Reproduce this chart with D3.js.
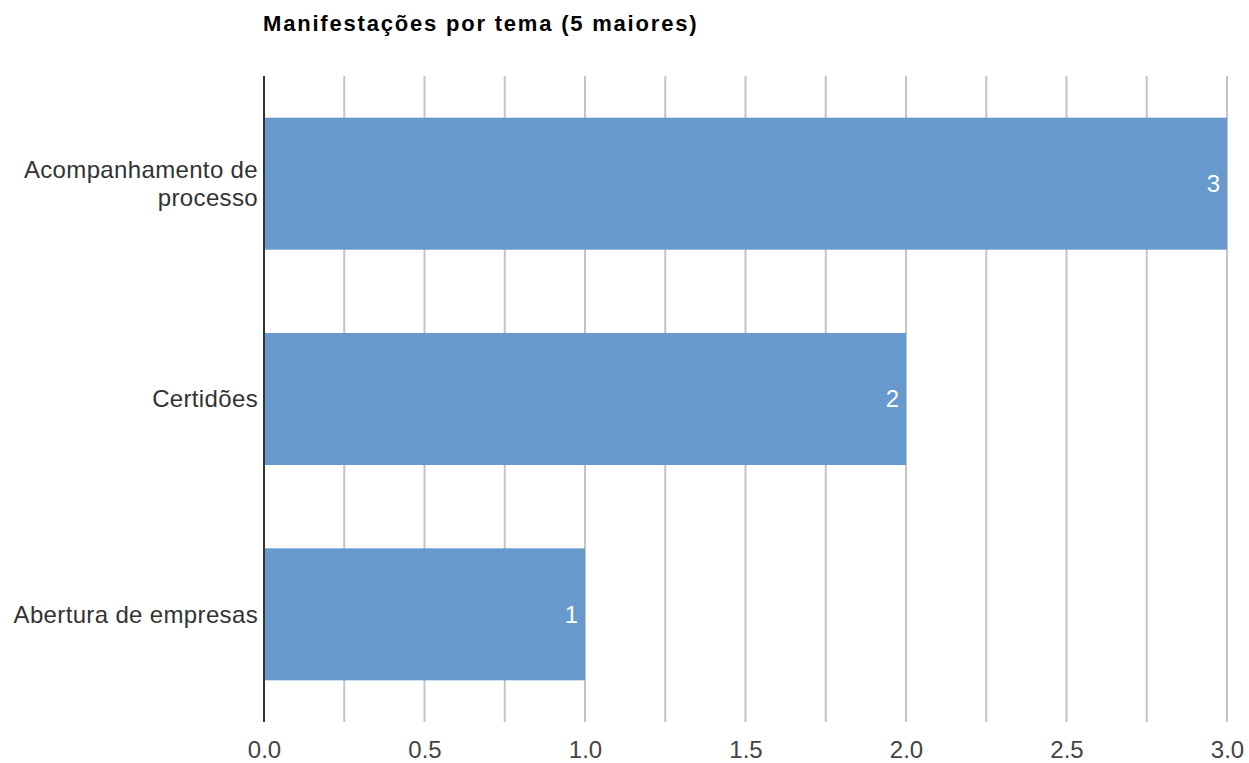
<!DOCTYPE html>
<html>
<head>
<meta charset="utf-8">
<script src="https://cdn.jsdelivr.net/npm/d3@7"></script>
<style>
  body { margin: 0; background: #fff; }
  svg { font-family: "Liberation Sans", Arial, sans-serif; }
</style>
</head>
<body>
<svg id="chart"></svg>
<script>
// chart data
const categories = ['Acompanhamento de processo', 'Certidões', 'Abertura de empresas'];
const values = [3, 2, 1];
const xTicks = [0, 0.5, 1, 1.5, 2, 2.5, 3];
const gridTicks = [0, 0.25, 0.5, 0.75, 1, 1.25, 1.5, 1.75, 2, 2.25, 2.5, 2.75, 3];
const title = 'Manifestações por tema (5 maiores)';

const width = 1249, height = 763;
const margin = { top: 76, right: 22, bottom: 41, left: 264 };
const innerW = width - margin.left - margin.right;
const innerH = height - margin.top - margin.bottom;

const svg = d3.select('#chart')
  .attr('width', width)
  .attr('height', height);

const chart = svg.append('g')
  .attr('transform', `translate(${margin.left},${margin.top})`);

const x = d3.scaleLinear().domain([0, 3]).range([0, innerW]);
const y = d3.scaleBand().domain(categories).range([0, innerH])
  .paddingInner(0.387).paddingOuter(0.1935);

// gridlines
chart.selectAll('.grid')
  .data(gridTicks.slice(1))
  .join('line')
  .attr('class', 'grid')
  .attr('x1', d => x(d)).attr('x2', d => x(d))
  .attr('y1', 0).attr('y2', innerH)
  .attr('stroke', '#c4c4c4')
  .attr('stroke-width', 2);

// bars
chart.selectAll('.bar')
  .data(values)
  .join('rect')
  .attr('class', 'bar')
  .attr('x', x(0))
  .attr('y', (d, i) => y(categories[i]))
  .attr('width', d => x(d))
  .attr('height', y.bandwidth())
  .attr('fill', '#6799cc');

// value labels
chart.selectAll('.val')
  .data(values)
  .join('text')
  .attr('class', 'val')
  .attr('x', d => x(d) - 7)
  .attr('y', (d, i) => y(categories[i]) + y.bandwidth() / 2)
  .attr('dy', '0.35em')
  .attr('text-anchor', 'end')
  .attr('fill', '#fff')
  .style('font-size', '24px')
  .text(d => d);

// zero axis line
chart.append('line')
  .attr('x1', x(0)).attr('x2', x(0))
  .attr('y1', 0).attr('y2', innerH)
  .attr('stroke', '#333')
  .attr('stroke-width', 2);

// x axis labels
const xAxis = d3.axisBottom(x).tickValues(xTicks).tickFormat(d3.format('.1f')).tickSize(0).tickPadding(19);
chart.append('g')
  .attr('transform', `translate(0,${innerH})`)
  .call(xAxis)
  .call(g => g.select('.domain').remove())
  .selectAll('text')
  .attr('fill', '#444')
  .style('font-size', '24px')
  .style('font-family', '"Liberation Sans", Arial, sans-serif');

// category labels (wrapped like the original)
const wrapped = {
  'Acompanhamento de processo': ['Acompanhamento de', 'processo']
};
categories.forEach(c => {
  const lines = wrapped[c] || [c];
  const cy = y(c) + y.bandwidth() / 2;
  const lh = 28;
  const t = chart.append('text')
    .attr('text-anchor', 'end')
    .attr('fill', '#333')
    .style('font-size', '24px')
    .style('letter-spacing', '0.35px');
  lines.forEach((l, i) => {
    t.append('tspan')
      .attr('x', -6)
      .attr('y', cy + (i - (lines.length - 1) / 2) * lh)
      .attr('dy', '0.35em')
      .text(l);
  });
});

// title
svg.append('text')
  .attr('x', 263)
  .attr('y', 31)
  .attr('fill', '#000')
  .style('font-size', '22px')
  .style('font-weight', 'bold')
  .style('letter-spacing', '1.8px')
  .text(title);
</script>
</body>
</html>
